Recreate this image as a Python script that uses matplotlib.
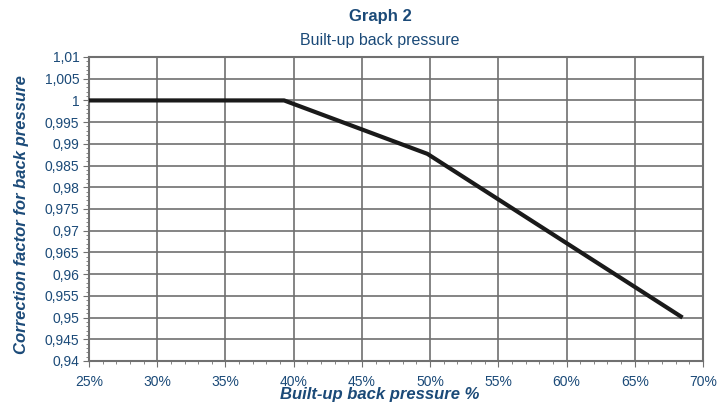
import numpy as np
import matplotlib.pyplot as plt
from matplotlib.ticker import MultipleLocator, FuncFormatter

# Data
back_pressure = [25, 39.3, 49.8, 68.5]        # %
correction = [1.0, 1.0, 0.9877, 0.950]

x_ticks = [25, 30, 35, 40, 45, 50, 55, 60, 65, 70]
y_ticks = [0.94, 0.945, 0.95, 0.955, 0.96, 0.965, 0.97, 0.975, 0.98,
           0.985, 0.99, 0.995, 1.0, 1.005, 1.01]

blue = '#1b4a78'
grid_col = '#707070'
fam = ['Liberation Sans', 'DejaVu Sans']

W, H = 724, 407
fig = plt.figure(figsize=(W / 100, H / 100), dpi=100)
ax = fig.add_axes([89 / W, 1 - 361 / H, (703 - 89) / W, (361 - 57) / H])

ax.plot(back_pressure, correction, color='#1a1a1a', lw=3, solid_capstyle='butt', zorder=3)

ax.set_xlim(25, 70)
ax.set_ylim(0.94, 1.01)
ax.set_xticks(x_ticks)
ax.set_yticks(y_ticks)
ax.xaxis.set_minor_locator(MultipleLocator(1))
ax.yaxis.set_minor_locator(MultipleLocator(0.001))
ax.xaxis.set_major_formatter(FuncFormatter(lambda v, p: f'{v:.0f}%'))
ax.yaxis.set_major_formatter(FuncFormatter(
    lambda v, p: (f'{v:.3f}'.rstrip('0').rstrip('.')).replace('.', ',')))

ax.grid(True, which='major', color=grid_col, lw=1.2)
ax.set_axisbelow(True)
for s in ax.spines.values():
    s.set_color(grid_col)
    s.set_linewidth(1.5)

ax.tick_params(which='major', length=4, color=grid_col, labelcolor=blue,
               labelsize=10, pad=3)
ax.tick_params(which='minor', length=2.5, color=grid_col)
ax.tick_params(axis='x', pad=6)
for lbl in ax.get_xticklabels() + ax.get_yticklabels():
    lbl.set_family(fam)

# axis titles placed like the reference
fig.text(380 / W, 1 - 395 / H, 'Built-up back pressure %', ha='center', va='center',
         color=blue, fontsize=12, fontweight='bold', style='italic', family=fam)
fig.text(22 / W, 1 - 215 / H, 'Correction factor for back pressure', ha='center',
         va='center', rotation=90, color=blue, fontsize=12, fontweight='bold',
         style='italic', family=fam)

fig.text(380 / W, 1 - 17 / H, 'Graph 2', ha='center', va='center',
         color=blue, fontsize=12, fontweight='bold', family=fam)
fig.text(380 / W, 1 - 40 / H, 'Built-up back pressure', ha='center', va='center',
         color=blue, fontsize=11.5, family=fam)

fig.savefig('out.png', dpi=100)
